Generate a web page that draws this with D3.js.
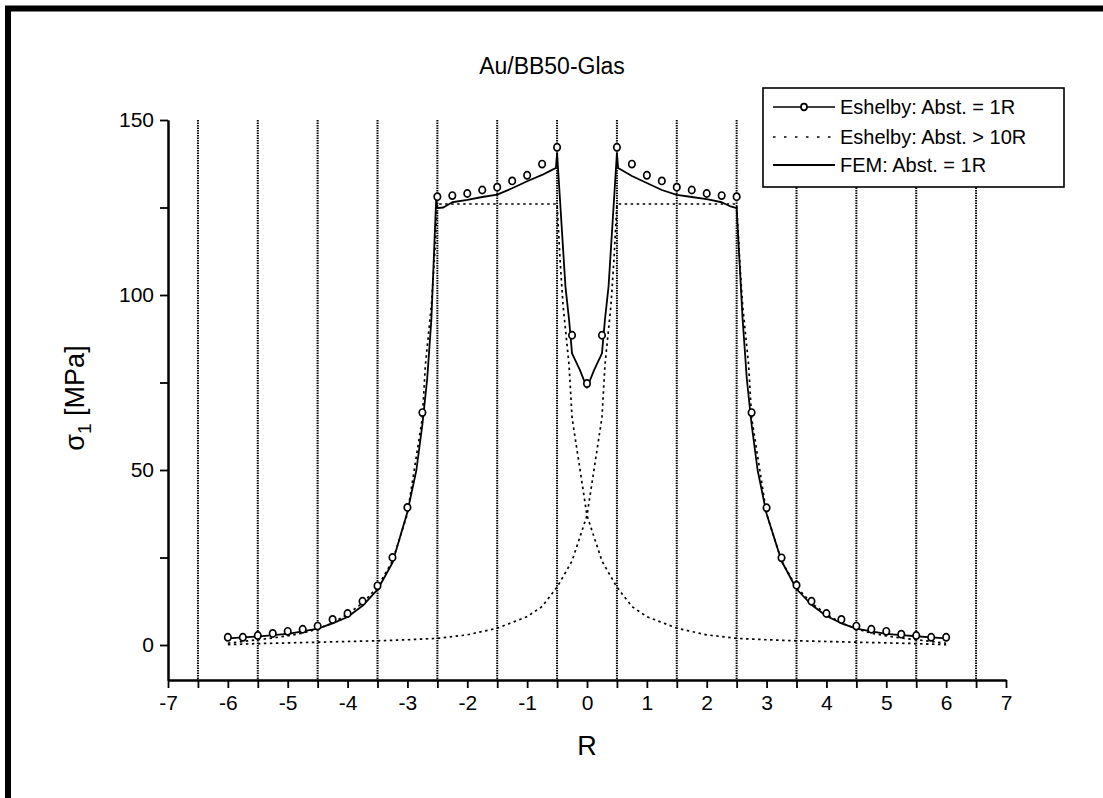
<!DOCTYPE html>
<html><head><meta charset="utf-8">
<script src="https://cdn.jsdelivr.net/npm/d3@7"></script>
<style>
body{margin:0;background:#fff}
svg{display:block}
text{font-family:"Liberation Sans",Arial,sans-serif;fill:#000}
</style>
</head><body>
<svg id="c" width="1103" height="798"></svg>
<script>
// ---------- data ----------
const title = "Au/BB50-Glas";
const xLabel = "R";
const seriesNames = ["Eshelby: Abst. = 1R", "Eshelby: Abst. > 10R", "FEM: Abst. = 1R"];

const xMajorTicks = [-7,-6,-5,-4,-3,-2,-1,0,1,2,3,4,5,6,7];
const xMinorTicks = [-6.5,-5.5,-4.5,-3.5,-2.5,-1.5,-0.5,0.5,1.5,2.5,3.5,4.5,5.5,6.5];
const yMajorTicks = [0,50,100,150];
const yMinorTicks = [25,75,125];
const gridR = [-6.5,-5.5,-4.5,-3.5,-2.5,-1.5,-0.5,0.5,1.5,2.5,3.5,4.5,5.5,6.5];

// Eshelby, distance = 1R (symbols)
const eshR = [-6,-5.75,-5.5,-5.25,-5,-4.75,-4.5,-4.25,-4,-3.75,-3.5,-3.25,-3,-2.75,
  -2.5,-2.25,-2,-1.75,-1.5,-1.25,-1,-0.75,-0.5,-0.25,0,0.25,
  0.5,0.75,1,1.25,1.5,1.75,2,2.25,2.5,2.75,3,3.25,3.5,3.75,4,4.25,4.5,4.75,5,5.25,5.5,5.75,6];
const eshV = [2.2,2.2,2.7,3.3,3.9,4.5,5.4,7.3,9.0,12.5,16.9,25.0,39.3,66.4,
  128.1,128.4,129.0,130.0,130.8,132.6,134.2,137.4,142.2,88.5,74.7,88.5,
  142.2,137.4,134.2,132.6,130.8,130.0,129.0,128.4,128.1,66.4,39.2,24.9,17.1,12.5,9.0,7.3,5.4,4.5,3.9,3.1,2.7,2.2,2.2];

// Eshelby, distance > 10R (isolated particle fields, dotted)
const isoLeftR = [-6,-5.75,-5.5,-5.25,-5,-4.75,-4.5,-4.25,-4,-3.75,-3.5,-3.25,-3,-2.75,-2.7,-2.6,-2.55,-2.5,
  -0.5,-0.45,-0.4,-0.3,-0.25,0,0.25,0.5,0.75,1,1.5,2,2.5,3,3.5,4,4.5,5,5.5,6];
const isoLeftV = [0.5,1.0,1.5,2.0,2.6,3.4,4.6,6.3,8.8,12,16.5,24,37.5,65,80,97,110,126,
  126,110,97,80,65,37,24,16.5,11,8.1,4.8,2.9,1.9,1.5,1.2,1.0,0.8,0.6,0.4,0.1];
const isoRightR = [-6,-5.5,-5,-4.5,-4,-3.5,-3,-2.5,-2,-1.5,-1,-0.75,-0.5,-0.25,0,0.25,0.3,0.4,0.45,0.5,
  2.5,2.55,2.6,2.7,2.75,3,3.25,3.5,3.75,4,4.25,4.5,4.75,5,5.25,5.5,5.75,6];
const isoRightV = [0.1,0.4,0.6,0.8,1.0,1.2,1.5,1.9,2.9,4.8,8.1,11,16.5,24,37,65,80,97,110,126,
  126,110,97,80,65,37.5,24,16.5,12,8.8,6.3,4.6,3.4,2.6,2.0,1.5,1.0,0.5];

// FEM, distance = 1R (solid line)
const femR = [-6,-5.75,-5.5,-5.25,-5,-4.75,-4.5,-4.25,-4,-3.75,-3.5,-3.25,-3,-2.85,-2.75,-2.67,-2.6,-2.52,-2.5,
  -2.4,-2.25,-2,-1.75,-1.5,-1.25,-1,-0.75,-0.6,-0.52,-0.5,-0.36,-0.3,-0.25,-0.12,0,
  0.12,0.25,0.3,0.36,0.5,0.52,0.6,0.75,1,1.25,1.5,1.75,2,2.25,2.4,2.5,
  2.6,2.67,2.75,2.85,3,3.25,3.5,3.75,4,4.25,4.5,4.75,5,5.25,5.5,5.75,6];
const femV = [1.9,2.2,2.4,2.8,3.2,3.9,4.7,6.2,8.0,11.2,15.8,23.5,38,50,63,76,93,127.3,124.8,
  125,126.5,127.2,128,128.7,130.5,132.5,134.3,135.6,136.3,140.5,102.4,93,83.3,78.6,73.5,
  78.6,83.3,93,102.4,140.5,136.3,135.5,134,132,130,128.6,128,127.4,126.5,125.3,124.8,
  93,76,63,50,37.5,24,16,11.5,8.3,6.2,4.7,3.9,3.2,2.8,2.5,2.2,1.9];

// ---------- drawing ----------
const FONT = '"Liberation Sans",Arial,sans-serif';
const svg = d3.select("#c");
const x = d3.scaleLinear().domain([-7,7]).range([168,1006]);
const y = d3.scaleLinear().domain([-10,150]).range([680,120]);

// outer frame (extends beyond the picture on right/bottom)
svg.append("rect").attr("x",8).attr("y",8.5).attr("width",1200).attr("height",900)
  .attr("fill","none").attr("stroke","#000").attr("stroke-width",6);

// vertical dotted lines
svg.append("g").selectAll("line").data(gridR).join("line")
  .attr("x1",d=>x(d)).attr("x2",d=>x(d)).attr("y1",y(150)).attr("y2",y(-10))
  .attr("stroke","#000").attr("stroke-width",2).attr("stroke-dasharray","1.5,1");

const line = d3.line().x(d=>x(d[0])).y(d=>y(d[1]));

// isolated fields (dotted)
[[isoLeftR,isoLeftV],[isoRightR,isoRightV]].forEach(([r,v])=>{
  svg.append("path").datum(r.map((d,i)=>[d,v[i]])).attr("d",line)
    .attr("fill","none").attr("stroke","#000").attr("stroke-width",1.7)
    .attr("stroke-dasharray","2.5,3.5");
});

// FEM solid
svg.append("path").datum(femR.map((d,i)=>[d,femV[i]])).attr("d",line)
  .attr("fill","none").attr("stroke","#000").attr("stroke-width",1.8)
  .attr("stroke-linejoin","round");

// Eshelby symbols
svg.append("g").selectAll("ellipse").data(eshR.map((d,i)=>[d,eshV[i]])).join("ellipse")
  .attr("cx",d=>x(d[0])).attr("cy",d=>y(d[1])).attr("rx",3.2).attr("ry",3.6)
  .attr("fill","#fff").attr("stroke","#000").attr("stroke-width",1.7);

// axes
const fs = 21;
const fmt = d=>String(d);
const xAxisMinor = d3.axisBottom(x).tickValues(xMinorTicks).tickSize(8).tickSizeOuter(0).tickFormat("");
const xAxis = d3.axisBottom(x).tickValues(xMajorTicks).tickSize(8).tickSizeOuter(0).tickPadding(7).tickFormat(fmt);
const gx2 = svg.append("g").attr("transform",`translate(0,${y(-10)})`).call(xAxisMinor);
const gx = svg.append("g").attr("transform",`translate(0,${y(-10)})`).call(xAxis);
const yAxisMinor = d3.axisLeft(y).tickValues(yMinorTicks).tickSize(8).tickSizeOuter(0).tickFormat("");
const yAxis = d3.axisLeft(y).tickValues(yMajorTicks).tickSize(8).tickSizeOuter(0).tickPadding(6).tickFormat(fmt);
const gy2 = svg.append("g").attr("transform",`translate(${x(-7)},0)`).call(yAxisMinor);
const gy = svg.append("g").attr("transform",`translate(${x(-7)},0)`).call(yAxis);
[gx,gx2,gy,gy2].forEach(g=>{
  g.selectAll("path").attr("stroke","#000").attr("stroke-width",2);
  g.selectAll("line").attr("stroke","#000").attr("stroke-width",1.8);
  g.selectAll("text").attr("font-size",fs).attr("font-family",FONT).attr("fill","#000");
});

// titles
svg.append("text").attr("x",552).attr("y",74).attr("text-anchor","middle")
  .attr("font-size",23).text(title);
svg.append("text").attr("x",x(0)).attr("y",755).attr("text-anchor","middle")
  .attr("font-size",27).text(xLabel);
const yl = svg.append("text").attr("transform","translate(84,398) rotate(-90)")
  .attr("text-anchor","middle").attr("font-size",27);
yl.append("tspan").text("σ");
yl.append("tspan").attr("font-size",19).attr("dy",7).text("1");
yl.append("tspan").attr("dy",-7).text(" [MPa]");

// legend
const lg = svg.append("g");
lg.append("rect").attr("x",763).attr("y",88).attr("width",301).attr("height",99)
  .attr("fill","#fff").attr("stroke","#000").attr("stroke-width",1.6);
const rowsY = [107,137,165];
const lx1 = 773, lx2 = 835;
// row 1: line + circle
lg.append("line").attr("x1",lx1).attr("x2",lx2).attr("y1",rowsY[0]).attr("y2",rowsY[0])
  .attr("stroke","#000").attr("stroke-width",1.7);
lg.append("ellipse").attr("cx",(lx1+lx2)/2).attr("cy",rowsY[0]).attr("rx",3).attr("ry",3.3)
  .attr("fill","#fff").attr("stroke","#000").attr("stroke-width",1.7);
// row 2: dotted
lg.append("line").attr("x1",lx1).attr("x2",lx2).attr("y1",rowsY[1]).attr("y2",rowsY[1])
  .attr("stroke","#000").attr("stroke-width",1.7).attr("stroke-dasharray","2.5,8.5");
// row 3: solid
lg.append("line").attr("x1",lx1).attr("x2",lx2).attr("y1",rowsY[2]).attr("y2",rowsY[2])
  .attr("stroke","#000").attr("stroke-width",1.8);
lg.selectAll("text.lt").data(seriesNames).join("text").attr("class","lt")
  .attr("x",840).attr("y",(d,i)=>rowsY[i]).attr("dy","0.36em")
  .attr("font-size",20).text(d=>d);
</script>
</body></html>
